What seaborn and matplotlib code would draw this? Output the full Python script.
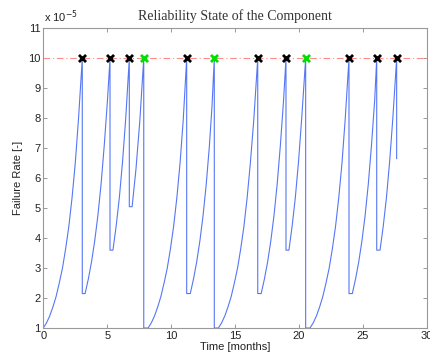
import matplotlib
matplotlib.use("Agg")
import matplotlib.pyplot as plt
import seaborn as sns
import pandas as pd

# ---- data (failure rate in units of 1e-5) ----
time = [0.0, 0.25, 0.5, 0.75, 1.0, 1.25, 1.5, 1.75, 2.0, 2.25, 2.5, 2.75, 3.05,
        3.05, 3.27, 3.52, 3.77, 4.02, 4.27, 4.52, 4.77, 5.02, 5.22,
        5.22, 5.45, 5.7, 5.95, 6.2, 6.45, 6.73,
        6.73, 6.95, 7.25, 7.55, 7.86,
        7.86, 8.2, 8.45, 8.7, 8.95, 9.2, 9.45, 9.7, 9.95, 10.2, 10.45, 10.7, 10.95, 11.22,
        11.22, 11.5, 11.75, 12.0, 12.25, 12.5, 12.75, 13.0, 13.2, 13.38,
        13.38, 13.7, 13.95, 14.2, 14.45, 14.7, 14.95, 15.2, 15.45, 15.7, 15.95, 16.2, 16.47, 16.78,
        16.78, 17.05, 17.3, 17.55, 17.8, 18.05, 18.3, 18.55, 18.8, 18.99,
        18.99, 19.22, 19.47, 19.72, 19.97, 20.22, 20.53,
        20.53, 20.87, 21.12, 21.37, 21.62, 21.87, 22.12, 22.37, 22.62, 22.87, 23.12, 23.37, 23.62, 23.92,
        23.92, 24.18, 24.43, 24.68, 24.93, 25.18, 25.43, 25.68, 25.93, 26.09,
        26.09, 26.35, 26.6, 26.85, 27.1, 27.35, 27.65,
        27.65]
rate = [1.0, 1.17, 1.4, 1.7, 2.05, 2.5, 3.0, 3.65, 4.4, 5.35, 6.5, 7.95, 10.0,
        2.15, 2.15, 2.63, 3.2, 3.9, 4.75, 5.8, 7.1, 8.6, 10.0,
        3.6, 3.6, 4.4, 5.35, 6.55, 8.0, 10.0,
        5.05, 5.05, 6.3, 7.9, 10.0,
        1.0, 1.0, 1.17, 1.4, 1.7, 2.05, 2.5, 3.0, 3.65, 4.4, 5.35, 6.5, 7.95, 10.0,
        2.15, 2.15, 2.63, 3.2, 3.9, 4.75, 5.8, 7.1, 8.4, 10.0,
        1.0, 1.0, 1.17, 1.4, 1.7, 2.05, 2.5, 3.0, 3.65, 4.4, 5.35, 6.5, 7.95, 10.0,
        2.15, 2.15, 2.63, 3.2, 3.9, 4.75, 5.8, 7.1, 8.6, 10.0,
        3.6, 3.6, 4.4, 5.35, 6.55, 8.0, 10.0,
        1.0, 1.0, 1.17, 1.4, 1.7, 2.05, 2.5, 3.0, 3.65, 4.4, 5.35, 6.5, 7.95, 10.0,
        2.15, 2.15, 2.63, 3.2, 3.9, 4.75, 5.8, 7.1, 8.6, 10.0,
        3.6, 3.6, 4.4, 5.35, 6.55, 8.0, 10.0,
        6.65]

pm_times = [3.05, 5.22, 6.73, 11.22, 16.78, 18.99, 23.92, 26.09, 27.65]
replace_times = [7.86, 13.38, 20.53]
threshold = 10.0

x_ticks = [0, 5, 10, 15, 20, 25, 30]
y_ticks = [1, 2, 3, 4, 5, 6, 7, 8, 9, 10, 11]

# ---- style ----
sns.set_theme(style="white")
plt.rcParams["font.family"] = ["Liberation Sans", "DejaVu Sans"]

fig = plt.figure(figsize=(4.30, 3.62), dpi=100)
ax = fig.add_axes([0.1007, 0.0939, 0.8916, 0.8274])

df = pd.DataFrame({"t": time, "r": rate})
sns.lineplot(data=df, x="t", y="r", sort=False, estimator=None,
             color="#5577f5", linewidth=0.8, ax=ax, zorder=2)

ax.axhline(threshold, color="#ff8c8c", linewidth=0.8, linestyle="-.",
           dashes=(6, 2.5, 1, 2.5), zorder=1)

pm_df = pd.DataFrame({"t": pm_times, "r": [threshold] * len(pm_times)})
rp_df = pd.DataFrame({"t": replace_times, "r": [threshold] * len(replace_times)})
sns.scatterplot(data=pm_df, x="t", y="r", marker="x", color="black",
                s=26, linewidth=2.0, ax=ax, zorder=4)
sns.scatterplot(data=rp_df, x="t", y="r", marker="x", color="#00e000",
                s=26, linewidth=2.0, ax=ax, zorder=4)

ax.set_xlim(0, 30)
ax.set_ylim(1, 11)
ax.set_xticks(x_ticks)
ax.set_yticks(y_ticks)
ax.set_xticklabels([str(v) for v in x_ticks])
ax.set_yticklabels([str(v) for v in y_ticks])

ax.tick_params(axis="both", which="both", direction="in", length=3,
               width=0.6, color="#888888", labelsize=8, labelcolor="#222222",
               top=True, right=True, bottom=True, left=True, pad=2)
for s in ax.spines.values():
    s.set_color("#999999")
    s.set_linewidth(0.8)

ax.set_xlabel("Time [months]", fontsize=8, color="#222222", labelpad=1)
ax.set_ylabel("Failure Rate [-]", fontsize=8, color="#222222", labelpad=4)
ax.set_title("Reliability State of the Component", fontsize=10,
             family=["Liberation Serif", "DejaVu Serif"], color="#333333", pad=6)

fig.text(0.103, 0.93, r"x 10$^{-5}$", fontsize=8, color="#222222",
         ha="left", va="bottom")

fig.savefig("out.png", dpi=100)
